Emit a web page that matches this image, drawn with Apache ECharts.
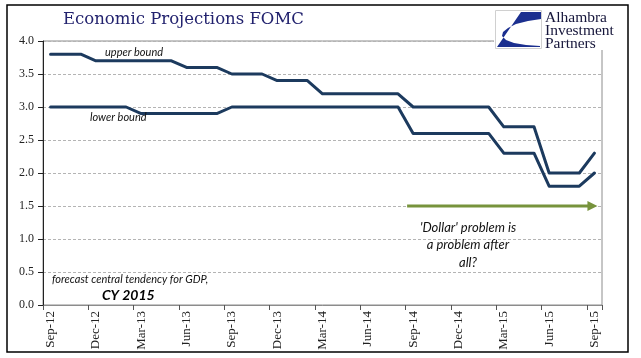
<!DOCTYPE html>
<html>
<head>
<meta charset="utf-8">
<script src="https://cdn.jsdelivr.net/npm/echarts@6/dist/echarts.min.js"></script>
<style>
html,body{margin:0;padding:0;background:#fff;}
#chart{width:641px;height:358px;}
</style>
</head>
<body>
<div id="chart"></div>
<script>
var months = ['Sep-12','Oct-12','Nov-12','Dec-12','Jan-13','Feb-13','Mar-13','Apr-13','May-13','Jun-13','Jul-13','Aug-13',
  'Sep-13','Oct-13','Nov-13','Dec-13','Jan-14','Feb-14','Mar-14','Apr-14','May-14','Jun-14','Jul-14','Aug-14',
  'Sep-14','Oct-14','Nov-14','Dec-14','Jan-15','Feb-15','Mar-15','Apr-15','May-15','Jun-15','Jul-15','Aug-15','Sep-15'];
var upperBound = [3.8,3.8,3.8,3.7,3.7,3.7,3.7,3.7,3.7,3.6,3.6,3.6,
  3.5,3.5,3.5,3.4,3.4,3.4,3.2,3.2,3.2,3.2,3.2,3.2,
  3.0,3.0,3.0,3.0,3.0,3.0,2.7,2.7,2.7,2.0,2.0,2.0,2.3];
var lowerBound = [3.0,3.0,3.0,3.0,3.0,3.0,2.9,2.9,2.9,2.9,2.9,2.9,
  3.0,3.0,3.0,3.0,3.0,3.0,3.0,3.0,3.0,3.0,3.0,3.0,
  2.6,2.6,2.6,2.6,2.6,2.6,2.3,2.3,2.3,1.8,1.8,1.8,2.0];
var arrowFrom = 23.6, arrowTo = 36.2, arrowLevel = 1.5;

var chart = echarts.init(document.getElementById('chart'));
var lineColor = '#1c3a5e';
var option = {
  animation: false,
  backgroundColor: '#fff',
  grid: {left: 43, right: 39, top: 41, bottom: 53, show: true, borderColor: '#8c8c8c', borderWidth: 1},
  xAxis: {
    type: 'category', data: months, boundaryGap: true,
    axisLine: {lineStyle: {color: '#8c8c8c', width: 1}},
    axisTick: {show: true, interval: 2, length: 5, lineStyle: {color: '#555'}},
    axisLabel: {interval: 2, rotate: 90, fontFamily: 'Liberation Serif', fontSize: 13, color: '#222', margin: 6},
    splitLine: {show: false}
  },
  yAxis: {
    type: 'value', min: 0, max: 4, interval: 0.5,
    axisLine: {show: true, lineStyle: {color: '#222', width: 1}},
    axisTick: {show: true, length: 5, lineStyle: {color: '#222'}},
    axisLabel: {fontFamily: 'Liberation Serif', fontSize: 12, color: '#222', margin: 9,
      formatter: function (v) { return v.toFixed(1); }},
    splitLine: {show: true, lineStyle: {color: '#b4b4b4', type: [3, 2], width: 1}}
  },
  series: [
    {name: 'upper bound', type: 'line', data: upperBound, symbol: 'none',
      lineStyle: {color: lineColor, width: 3, join: 'round', cap: 'round'}},
    {name: 'lower bound', type: 'line', data: lowerBound, symbol: 'none',
      lineStyle: {color: lineColor, width: 3, join: 'round', cap: 'round'}}
  ]
};
chart.setOption(option);

var p0 = chart.convertToPixel({gridIndex: 0}, [Math.floor(arrowFrom), arrowLevel]);
var p1 = chart.convertToPixel({gridIndex: 0}, [Math.floor(arrowFrom) + 1, arrowLevel]);
var step = p1[0] - p0[0];
var ax0 = p0[0] + (arrowFrom - Math.floor(arrowFrom)) * step;
var ax1 = p0[0] + (arrowTo - Math.floor(arrowFrom)) * step;
var ay = p0[1];
var green = '#77933c';
function it(t, x, y, size, extra) {
  var s = {text: t, x: x, y: y, fontFamily: 'Lato', fontStyle: 'italic', fontSize: size, fill: '#111'};
  if (extra) { for (var k in extra) s[k] = extra[k]; }
  return {type: 'text', style: s, z: 10};
}

chart.setOption({
  graphic: [
    {type: 'rect', shape: {x: 7, y: 5, width: 621, height: 347}, style: {fill: 'none', stroke: '#000', lineWidth: 1.5}, silent: true},
    {type: 'text', style: {text: 'Economic Projections FOMC', x: 63, y: 11, fontFamily: 'DejaVu Serif', fontSize: 16.5, fill: '#22226e'}},
    {type: 'rect', shape: {x: 494, y: 9, width: 126, height: 41}, style: {fill: '#fff', stroke: 'none'}, z: 5},
    {type: 'rect', shape: {x: 495.5, y: 10.5, width: 46, height: 38}, style: {fill: '#fff', stroke: '#d0d0d0', lineWidth: 1}, z: 6},
    {type: 'polygon', shape: {points: [[521,12],[541,12],[541,19],[528,21],[516,24],[508,28],[503,32],[502,36],[506,40],[514,43],[526,45],[540,46],[540,47],[497,47]]}, style: {fill: '#1b2f8f'}, z: 7},
    {type: 'text', style: {text: 'Alhambra\nInvestment\nPartners', x: 545, y: 11, fontFamily: 'Liberation Serif', fontSize: 15.5, lineHeight: 13, fill: '#15153a'}, z: 7},
    it('upper bound', 105, 47, 11),
    it('lower bound', 90, 112, 11),
    it('forecast central tendency for GDP,', 52, 274, 11),
    it('CY 2015', 102, 288, 14, {fontWeight: 'bold', fill: '#000'}),
    it("'Dollar' problem is\na problem after\nall?", 468, 219, 13, {lineHeight: 17.5, align: 'center'}),
    {type: 'line', shape: {x1: ax0, y1: ay, x2: ax1 - 8, y2: ay}, style: {stroke: green, lineWidth: 3}, z: 10},
    {type: 'polygon', shape: {points: [[ax1 - 10, ay - 5], [ax1, ay], [ax1 - 10, ay + 5]]}, style: {fill: green}, z: 10}
  ]
});
</script>
</body>
</html>
